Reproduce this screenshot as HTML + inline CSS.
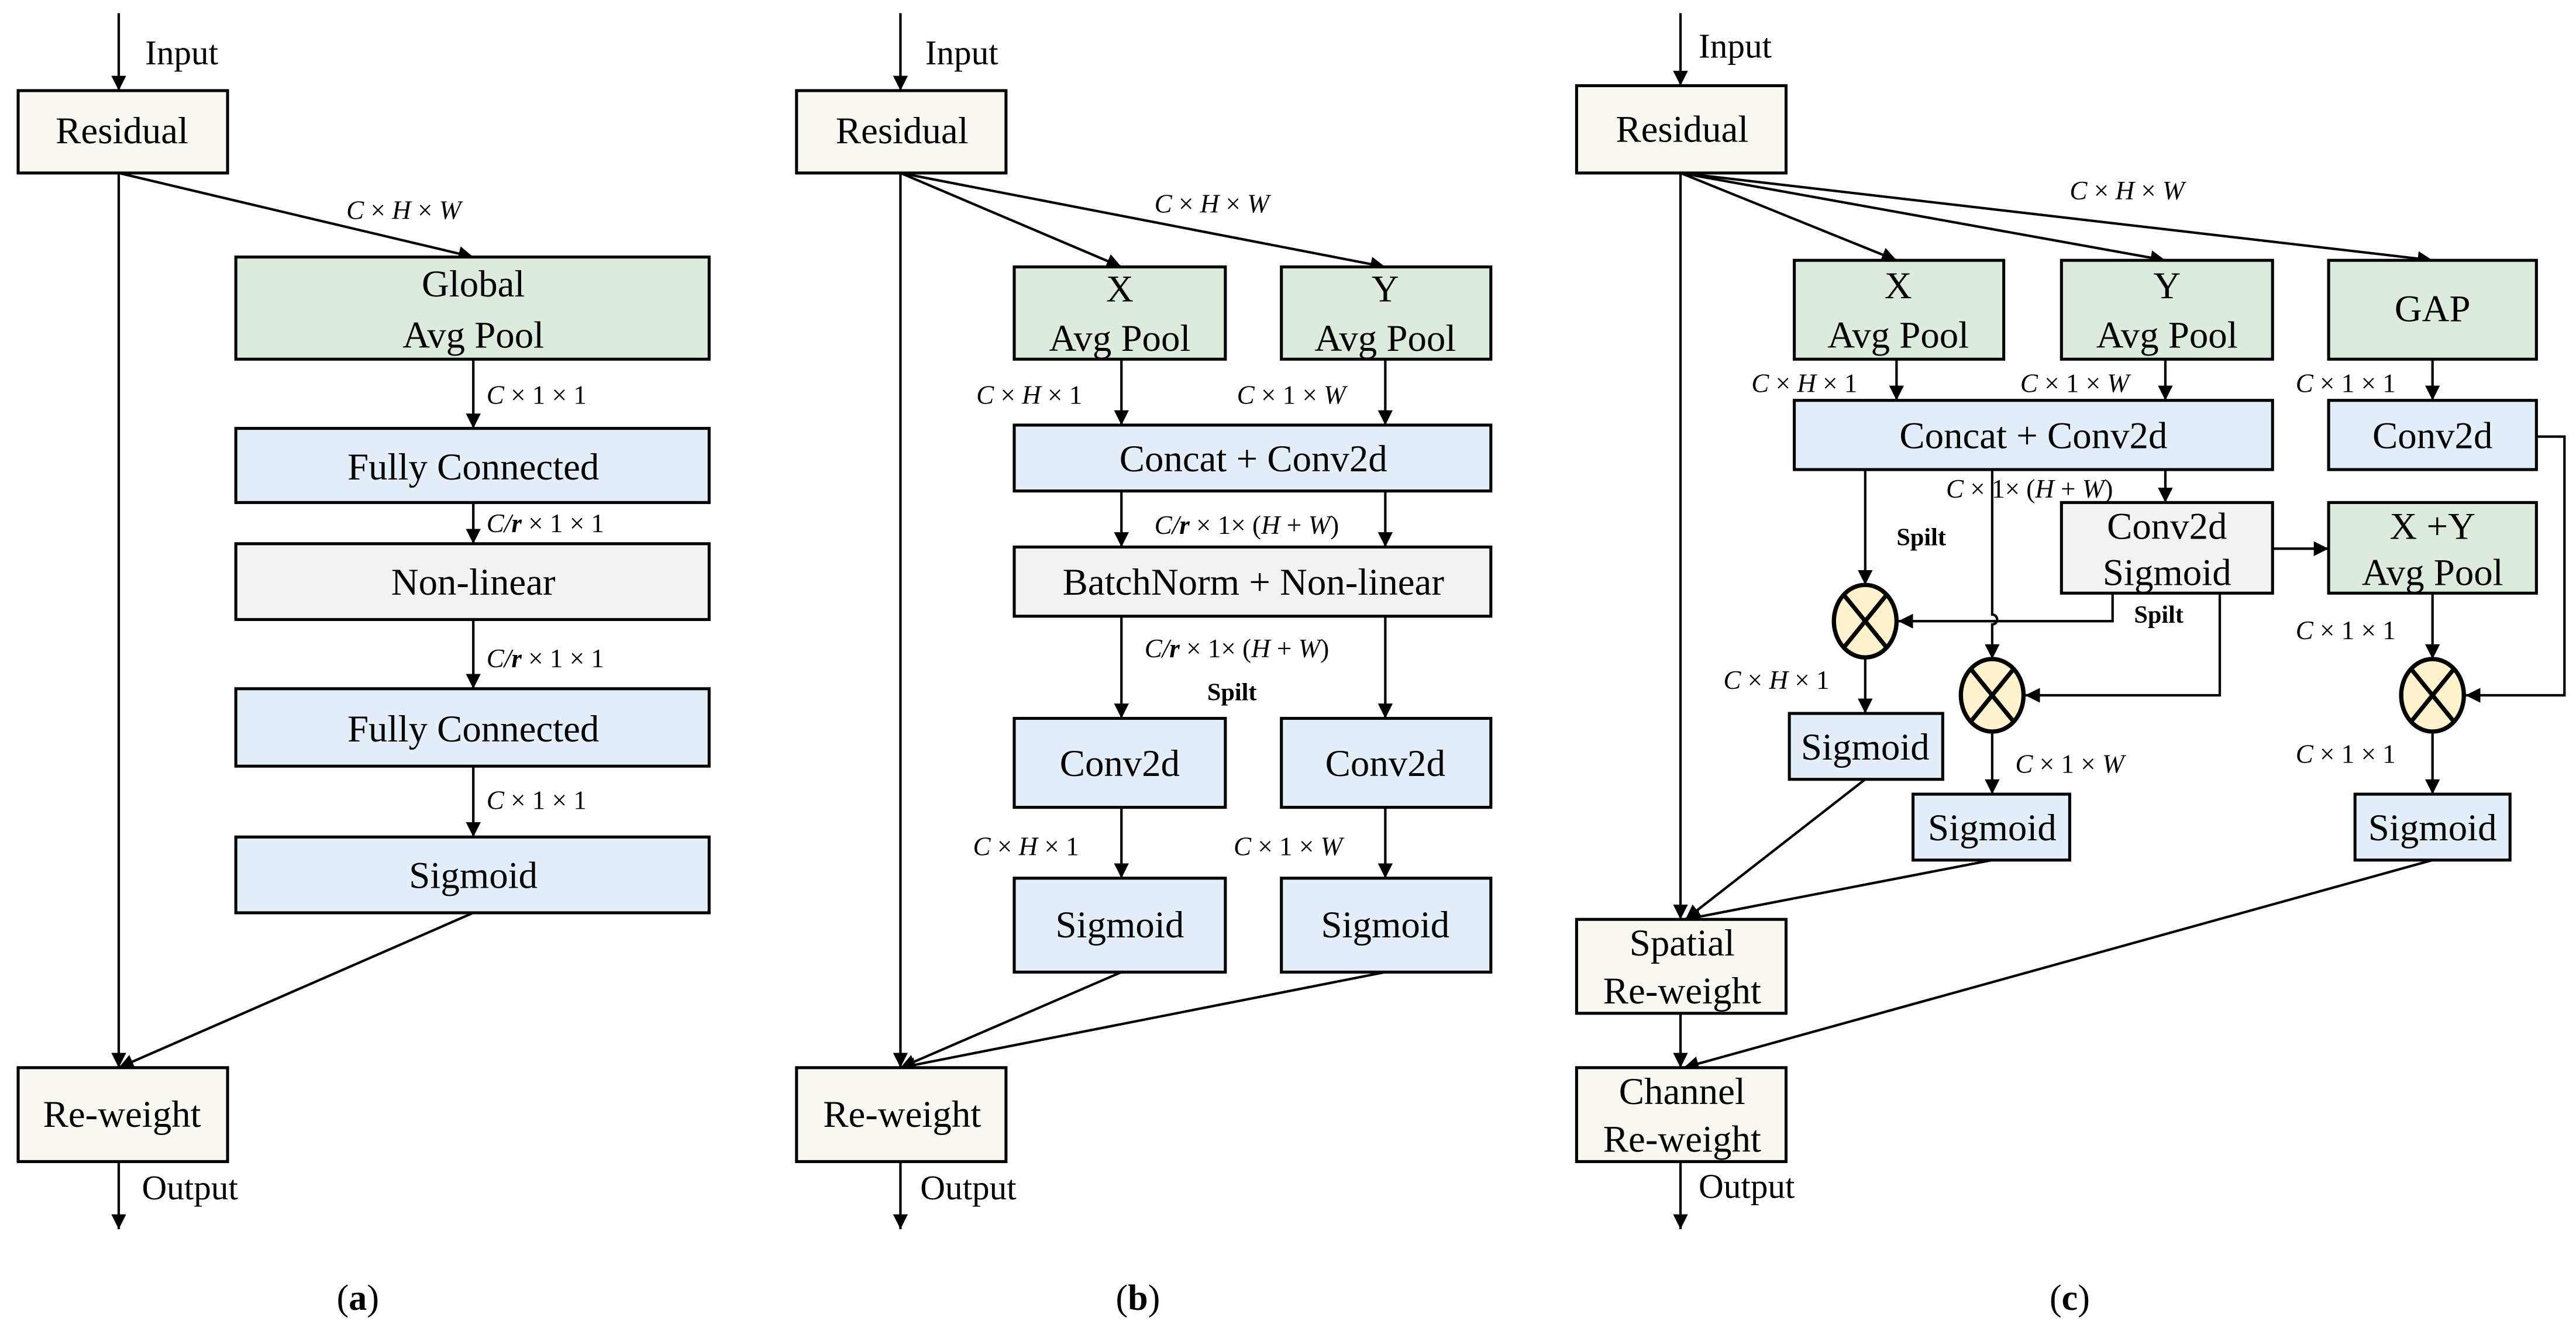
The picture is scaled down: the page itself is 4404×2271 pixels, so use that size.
<!DOCTYPE html>
<html><head><meta charset="utf-8"><style>
html,body{margin:0;padding:0;background:#fff;}
svg{display:block;}
text{font-family:"Liberation Serif",serif;fill:#000;}
.t{font-size:23px;text-anchor:middle;}
.l{font-size:16px;font-style:italic;}
.s{font-size:15px;font-weight:bold;}
.g{fill:#dcebdc;stroke:#000;stroke-width:1.8;}
.b{fill:#e3eef8;stroke:#000;stroke-width:1.8;}
.y{fill:#f2f2f2;stroke:#000;stroke-width:1.8;}
.c{fill:#f8f8f1;stroke:#000;stroke-width:1.8;}
.ln{stroke:#000;stroke-width:1.5;fill:none;}
.ar{stroke:#000;stroke-width:1.5;fill:none;marker-end:url(#m);}
</style></head><body>
<svg width="4404" height="2271" viewBox="0 0 1562 806" preserveAspectRatio="none" xmlns="http://www.w3.org/2000/svg">
<defs><marker id="m" viewBox="0 0 10 10" refX="10" refY="5" markerWidth="6" markerHeight="6" markerUnits="strokeWidth" orient="auto"><path d="M0,0 L10,5 L0,10 z" fill="#000"/></marker></defs>

<!-- Panel a -->
<line class="ar" x1="72" y1="8" x2="72" y2="55"/>
<text x="88" y="39" style="font-size:21px">Input</text>
<rect class="c" x="11" y="55" width="127" height="50"/>
<text class="t" x="74" y="87">Residual</text>
<line class="ar" x1="72" y1="105" x2="72" y2="648"/>
<line class="ar" x1="72" y1="105" x2="287" y2="156"/>
<text class="l" x="210" y="133">C <tspan font-style="normal">×</tspan> H <tspan font-style="normal">×</tspan> W</text>
<rect class="g" x="143" y="156" width="287" height="62"/>
<text class="t" x="287" y="180">Global</text><text class="t" x="287" y="211">Avg Pool</text>
<line class="ar" x1="287" y1="218" x2="287" y2="260"/>
<text class="l" x="295" y="245">C <tspan font-style="normal">× 1 × 1</tspan></text>
<rect class="b" x="143" y="260" width="287" height="45"/>
<text class="t" x="287" y="291">Fully Connected</text>
<line class="ar" x1="287" y1="305" x2="287" y2="330"/>
<text class="l" x="295" y="323">C/<tspan font-weight="bold">r</tspan> <tspan font-style="normal">× 1 × 1</tspan></text>
<rect class="y" x="143" y="330" width="287" height="46"/>
<text class="t" x="287" y="361">Non-linear</text>
<line class="ar" x1="287" y1="376" x2="287" y2="418"/>
<text class="l" x="295" y="405">C/<tspan font-weight="bold">r</tspan> <tspan font-style="normal">× 1 × 1</tspan></text>
<rect class="b" x="143" y="418" width="287" height="47"/>
<text class="t" x="287" y="450">Fully Connected</text>
<line class="ar" x1="287" y1="465" x2="287" y2="508"/>
<text class="l" x="295" y="491">C <tspan font-style="normal">× 1 × 1</tspan></text>
<rect class="b" x="143" y="508" width="287" height="46"/>
<text class="t" x="287" y="539">Sigmoid</text>
<line class="ar" x1="287" y1="554" x2="72" y2="648"/>
<rect class="c" x="11" y="648" width="127" height="57"/>
<text class="t" x="74" y="684">Re-weight</text>
<line class="ar" x1="72" y1="705" x2="72" y2="746"/>
<text x="86" y="728" style="font-size:21px">Output</text>
<text x="217" y="795" style="font-size:22px;text-anchor:middle">(<tspan font-weight="bold">a</tspan>)</text>

<!-- Panel b -->
<line class="ar" x1="546" y1="8" x2="546" y2="55"/>
<text x="561" y="39" style="font-size:21px">Input</text>
<rect class="c" x="483" y="55" width="127" height="50"/>
<text class="t" x="547" y="87">Residual</text>
<line class="ar" x1="546" y1="105" x2="546" y2="648"/>
<line class="ar" x1="546" y1="105" x2="680" y2="162"/>
<line class="ar" x1="546" y1="105" x2="840" y2="162"/>
<text class="l" x="700" y="129">C <tspan font-style="normal">×</tspan> H <tspan font-style="normal">×</tspan> W</text>
<rect class="g" x="615" y="162" width="128" height="56"/>
<text class="t" x="679" y="183">X</text><text class="t" x="679" y="213">Avg Pool</text>
<rect class="g" x="777" y="162" width="127" height="56"/>
<text class="t" x="840" y="183">Y</text><text class="t" x="840" y="213">Avg Pool</text>
<line class="ar" x1="680" y1="218" x2="680" y2="258"/>
<line class="ar" x1="840" y1="218" x2="840" y2="258"/>
<text class="l" x="592" y="245">C <tspan font-style="normal">×</tspan> H <tspan font-style="normal">× 1</tspan></text>
<text class="l" x="750" y="245">C <tspan font-style="normal">× 1 ×</tspan> W</text>
<rect class="b" x="615" y="258" width="289" height="40"/>
<text class="t" x="760" y="286">Concat + Conv2d</text>
<line class="ar" x1="680" y1="298" x2="680" y2="332"/>
<line class="ar" x1="840" y1="298" x2="840" y2="332"/>
<text class="l" x="700" y="324">C/<tspan font-weight="bold">r</tspan> <tspan font-style="normal">× 1× (</tspan>H <tspan font-style="normal">+</tspan> W<tspan font-style="normal">)</tspan></text>
<rect class="y" x="615" y="332" width="289" height="42"/>
<text class="t" x="760" y="361">BatchNorm + Non-linear</text>
<line class="ar" x1="680" y1="374" x2="680" y2="436"/>
<line class="ar" x1="840" y1="374" x2="840" y2="436"/>
<text class="l" x="694" y="399">C/<tspan font-weight="bold">r</tspan> <tspan font-style="normal">× 1× (</tspan>H <tspan font-style="normal">+</tspan> W<tspan font-style="normal">)</tspan></text>
<text class="s" x="732" y="425">Spilt</text>
<rect class="b" x="615" y="436" width="128" height="54"/>
<text class="t" x="679" y="471">Conv2d</text>
<rect class="b" x="777" y="436" width="127" height="54"/>
<text class="t" x="840" y="471">Conv2d</text>
<line class="ar" x1="680" y1="490" x2="680" y2="533"/>
<line class="ar" x1="840" y1="490" x2="840" y2="533"/>
<text class="l" x="590" y="519">C <tspan font-style="normal">×</tspan> H <tspan font-style="normal">× 1</tspan></text>
<text class="l" x="748" y="519">C <tspan font-style="normal">× 1 ×</tspan> W</text>
<rect class="b" x="615" y="533" width="128" height="57"/>
<text class="t" x="679" y="569">Sigmoid</text>
<rect class="b" x="777" y="533" width="127" height="57"/>
<text class="t" x="840" y="569">Sigmoid</text>
<line class="ar" x1="680" y1="590" x2="546" y2="648"/>
<line class="ar" x1="840" y1="590" x2="546" y2="648"/>
<rect class="c" x="483" y="648" width="127" height="57"/>
<text class="t" x="547" y="684">Re-weight</text>
<line class="ar" x1="546" y1="705" x2="546" y2="746"/>
<text x="558" y="728" style="font-size:21px">Output</text>
<text x="690" y="795" style="font-size:22px;text-anchor:middle">(<tspan font-weight="bold">b</tspan>)</text>

<!-- Panel c -->
<line class="ar" x1="1019" y1="8" x2="1019" y2="52"/>
<text x="1030" y="35" style="font-size:21px">Input</text>
<rect class="c" x="956" y="52" width="127" height="53"/>
<text class="t" x="1020" y="86">Residual</text>
<line class="ar" x1="1019" y1="105" x2="1019" y2="558"/>
<line class="ar" x1="1019" y1="105" x2="1150" y2="158"/>
<line class="ar" x1="1019" y1="105" x2="1313" y2="158"/>
<line class="ar" x1="1019" y1="105" x2="1475" y2="158"/>
<text class="l" x="1255" y="121">C <tspan font-style="normal">×</tspan> H <tspan font-style="normal">×</tspan> W</text>
<rect class="g" x="1088" y="158" width="127" height="60"/>
<text class="t" x="1151" y="181">X</text><text class="t" x="1151" y="211">Avg Pool</text>
<rect class="g" x="1250" y="158" width="128" height="60"/>
<text class="t" x="1314" y="181">Y</text><text class="t" x="1314" y="211">Avg Pool</text>
<rect class="g" x="1412" y="158" width="126" height="60"/>
<text class="t" x="1475" y="195">GAP</text>
<line class="ar" x1="1150" y1="218" x2="1150" y2="243"/>
<line class="ar" x1="1313" y1="218" x2="1313" y2="243"/>
<line class="ar" x1="1475" y1="218" x2="1475" y2="243"/>
<text class="l" x="1062" y="238">C <tspan font-style="normal">×</tspan> H <tspan font-style="normal">× 1</tspan></text>
<text class="l" x="1225" y="238">C <tspan font-style="normal">× 1 ×</tspan> W</text>
<text class="l" x="1392" y="238">C <tspan font-style="normal">× 1 × 1</tspan></text>
<rect class="b" x="1088" y="243" width="290" height="42"/>
<text class="t" x="1233" y="272">Concat + Conv2d</text>
<rect class="b" x="1412" y="243" width="126" height="42"/>
<text class="t" x="1475" y="272">Conv2d</text>
<line class="ar" x1="1131" y1="285" x2="1131" y2="355"/>
<path class="ar" d="M1208,285 V373 a3,3 0 0 1 0,6 V400"/>
<line class="ar" x1="1313" y1="285" x2="1313" y2="305"/>
<text class="l" x="1180" y="302">C <tspan font-style="normal">× 1× (</tspan>H <tspan font-style="normal">+</tspan> W<tspan font-style="normal">)</tspan></text>
<text class="s" x="1150" y="331">Spilt</text>
<rect class="y" x="1250" y="305" width="128" height="55"/>
<text class="t" x="1314" y="327">Conv2d</text><text class="t" x="1314" y="355">Sigmoid</text>
<line class="ar" x1="1378" y1="333" x2="1412" y2="333"/>
<rect class="g" x="1412" y="305" width="126" height="55"/>
<text class="t" x="1475" y="327">X +Y</text><text class="t" x="1475" y="355">Avg Pool</text>
<path class="ar" d="M1281,360 V377 H1151"/>
<path class="ar" d="M1346,360 V422 H1228"/>
<text class="s" x="1294" y="378">Spilt</text>
<line class="ar" x1="1475" y1="360" x2="1475" y2="400"/>
<text class="l" x="1392" y="388">C <tspan font-style="normal">× 1 × 1</tspan></text>
<path class="ar" d="M1538,265 H1555 V422 H1495"/>
<g fill="#fff2cc" stroke="#000" stroke-width="2.6">
<ellipse cx="1131" cy="377" rx="19" ry="22"/>
<ellipse cx="1208" cy="422" rx="19" ry="22"/>
<ellipse cx="1475" cy="422" rx="19" ry="22"/>
</g>
<g stroke="#000" stroke-width="2.6">
<line x1="1118" y1="361" x2="1144" y2="393"/><line x1="1144" y1="361" x2="1118" y2="393"/>
<line x1="1195" y1="406" x2="1221" y2="438"/><line x1="1221" y1="406" x2="1195" y2="438"/>
<line x1="1462" y1="406" x2="1488" y2="438"/><line x1="1488" y1="406" x2="1462" y2="438"/>
</g>
<line class="ar" x1="1131" y1="399" x2="1131" y2="433"/>
<text class="l" x="1045" y="418">C <tspan font-style="normal">×</tspan> H <tspan font-style="normal">× 1</tspan></text>
<line class="ar" x1="1208" y1="444" x2="1208" y2="482"/>
<text class="l" x="1222" y="469">C <tspan font-style="normal">× 1 ×</tspan> W</text>
<line class="ar" x1="1475" y1="444" x2="1475" y2="482"/>
<text class="l" x="1392" y="463">C <tspan font-style="normal">× 1 × 1</tspan></text>
<rect class="b" x="1085" y="433" width="93" height="40"/>
<text class="t" x="1131" y="461">Sigmoid</text>
<rect class="b" x="1160" y="482" width="95" height="40"/>
<text class="t" x="1208" y="510">Sigmoid</text>
<rect class="b" x="1428" y="482" width="94" height="40"/>
<text class="t" x="1475" y="510">Sigmoid</text>
<line class="ar" x1="1131" y1="473" x2="1022" y2="558"/>
<line class="ar" x1="1208" y1="522" x2="1022" y2="558"/>
<rect class="c" x="956" y="558" width="127" height="57"/>
<text class="t" x="1020" y="580">Spatial</text><text class="t" x="1020" y="609">Re-weight</text>
<line class="ar" x1="1019" y1="615" x2="1019" y2="648"/>
<line class="ar" x1="1475" y1="522" x2="1021" y2="648"/>
<rect class="c" x="956" y="648" width="127" height="57"/>
<text class="t" x="1020" y="670">Channel</text><text class="t" x="1020" y="699">Re-weight</text>
<line class="ar" x1="1019" y1="705" x2="1019" y2="746"/>
<text x="1030" y="727" style="font-size:21px">Output</text>
<text x="1255" y="795" style="font-size:22px;text-anchor:middle">(<tspan font-weight="bold">c</tspan>)</text>
</svg>
</body></html>
